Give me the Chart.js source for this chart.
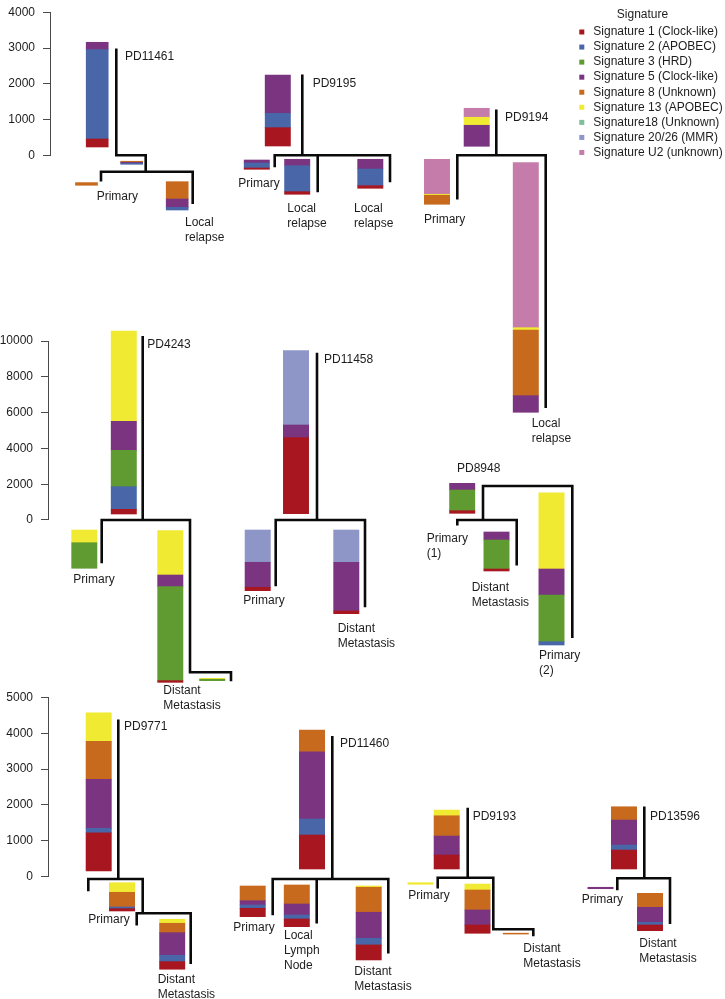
<!DOCTYPE html>
<html>
<head>
<meta charset="utf-8">
<script src="https://cdn.jsdelivr.net/npm/chart.js@4.4.1/dist/chart.umd.min.js"></script>
<style>
  body { margin: 0; background: #fff; width: 725px; height: 999px; position: relative; overflow: hidden; }
  canvas { position: absolute; left: 0; }
</style>
</head>
<body>
<canvas id="row1" width="725" height="450" style="top:0px"></canvas>
<canvas id="row2" width="725" height="460" style="top:255px"></canvas>
<canvas id="row3" width="725" height="319" style="top:680px"></canvas>
<script>
const signatureNames = [
  'Signature 1 (Clock-like)', 'Signature 2 (APOBEC)', 'Signature 3 (HRD)',
  'Signature 5 (Clock-like)', 'Signature 8 (Unknown)', 'Signature 13 (APOBEC)',
  'Signature18 (Unknown)', 'Signature 20/26 (MMR)', 'Signature U2 (unknown)',
];
const signatureColors = ['#A8171F', '#4866A8', '#609B32', '#7A3480', '#C86A1E', '#F0EA33', '#7DBE9B', '#8E96C8', '#C67CAA'];

const row1Ticks = [0, 1000, 2000, 3000, 4000];
const row2Ticks = [0, 2000, 4000, 6000, 8000, 10000];
const row3Ticks = [0, 1000, 2000, 3000, 4000, 5000];

// mutations per signature on each branch (same order as signatureNames)
// and the lower end of each bar, in mutations
const pd11461Counts = [
  [224, 2501, 0, 207, 0, 0, 0, 0, 0],
  [0, 30, 0, 25, 30, 0, 0, 0, 0],
  [0, 0, 0, 0, 75, 0, 0, 0, 0],
  [0, 76, 0, 232, 485, 0, 0, 0, 0],
];
const pd11461Base = [232, -252, -840, -1532];

const pd9195Counts = [
  [513, 403, 0, 1072, 0, 0, 0, 0, 0],
  [36, 140, 0, 84, 0, 0, 0, 0, 0],
  [73, 728, 0, 179, 0, 0, 0, 0, 0],
  [73, 467, 0, 272, 0, 0, 0, 0, 0],
];
const pd9195Base = [260, -392, -1092, -924];

const pd9194Counts = [
  [0, 0, 0, 588, 0, 224, 0, 0, 252],
  [0, 0, 0, 0, 252, 28, 0, 0, 980],
  [0, 0, 0, 465, 1839, 65, 0, 0, 4620],
];
const pd9194Base = [252, -1372, -7196];

const pd4243Counts = [
  [261, 1266, 2032, 1620, 0, 5045, 0, 0, 0],
  [0, 0, 1430, 0, 0, 709, 0, 0, 0],
  [94, 0, 5251, 652, 0, 2477, 0, 0, 0],
  [0, 0, 80, 0, 0, 50, 0, 0, 0],
];
const pd4243Base = [335, -2698, -9070, -8976];

const pd11458Counts = [
  [4248, 0, 0, 708, 0, 0, 0, 4151, 0],
  [190, 0, 0, 1397, 0, 0, 0, 1804, 0],
  [151, 0, 0, 2721, 0, 0, 0, 1804, 0],
];
const pd11458Base = [352, -3950, -5235];

const pd8948Counts = [
  [146, 0, 1156, 374, 0, 0, 0, 0, 0],
  [111, 0, 1621, 447, 0, 0, 0, 0, 0],
  [0, 185, 2609, 1452, 0, 4263, 0, 0, 0],
];
const pd8948Base = [374, -2849, -6984];

const pd9771Counts = [
  [1067, 123, 0, 1366, 1059, 797, 0, 0, 0],
  [64, 48, 0, 0, 409, 268, 0, 0, 0],
  [212, 178, 0, 630, 262, 112, 0, 0, 0],
];
const pd9771Base = [159, -956, -2581];

const pd11460Counts = [
  [947, 446, 0, 1876, 605, 0, 0, 0, 0],
  [234, 92, 0, 120, 410, 0, 0, 0, 0],
  [215, 112, 0, 306, 530, 0, 0, 0, 0],
  [419, 186, 0, 725, 697, 36, 0, 0, 0],
];
const pd11460Base = [215, -1115, -1394, -2322];

const pd9193Counts = [
  [390, 0, 0, 529, 566, 159, 0, 0, 0],
  [0, 0, 0, 0, 0, 45, 0, 0, 0],
  [232, 0, 0, 418, 557, 167, 0, 0, 0],
  [0, 0, 0, 0, 25, 0, 0, 0, 0],
];
const pd9193Base = [215, -212, -1578, -1600];

const pd13596Counts = [
  [529, 139, 0, 697, 371, 0, 0, 0, 0],
  [0, 0, 0, 40, 0, 0, 0, 0, 0],
  [159, 75, 0, 418, 390, 0, 0, 0, 0],
];
const pd13596Base = [215, -335, -1505];

// tree layout: bar columns, branch lines (x in page px, depth in mutations), labels
const row1Trees = [
  {
    counts: pd11461Counts, base: pd11461Base, barX: [97.2, 131.7, 86.5, 177.2], width: 22,
    nodes: [{ x: 116.3, top: 2957, end: 0 }, { x: 145.7, parent: 0, end: -459 },
      { x: 101, parent: 1, end: -700 }, { x: 192.7, parent: 1, end: -1327 }],
    labels: [[['PD11461'], 125, 2752], [['Primary'], 96.7, -1159], [['Local', 'relapse'], 185, -1896]],
  },
  {
    counts: pd9195Counts, base: pd9195Base, barX: [277.8, 256.8, 297.2, 370.3], width: 25.3,
    nodes: [{ x: 302.3, top: 2229, end: 0 }, { x: 274.7, parent: 0, end: -300 },
      { x: 317.7, parent: 0, end: -1000 }, { x: 390, parent: 0, end: -720 }],
    labels: [[['PD9195'], 312.7, 1996], [['Primary'], 238.3, -784],
      [['Local', 'relapse'], 287.3, -1504], [['Local', 'relapse'], 354, -1504]],
  },
  {
    counts: pd9194Counts, base: pd9194Base, barX: [476.7, 437, 525.8], width: 25.3,
    nodes: [{ x: 496.3, top: 1249, end: 0 }, { x: 457.3, parent: 0, end: -1204 },
      { x: 545.7, parent: 0, end: -7039 }],
    labels: [[['PD9194'], 505, 1064], [['Primary'], 424, -1812], [['Local', 'relapse'], 531.7, -7524]],
  },
];

const row2Trees = [
  {
    counts: pd4243Counts, base: pd4243Base, barX: [123.8, 84.3, 170.3, 212.2], width: 25.3,
    nodes: [{ x: 142.7, top: 10207, end: 0 }, { x: 101.7, parent: 0, end: -2347 },
      { x: 190, parent: 0, end: -8509 }, { x: 231, parent: 2, end: -8939 }],
    labels: [[['PD4243'], 147.3, 9816], [['Primary'], 73.3, -3313], [['Distant', 'Metastasis'], 163.3, -9554]],
  },
  {
    counts: pd11458Counts, base: pd11458Base, barX: [296, 257.7, 346.3], width: 25.3,
    nodes: [{ x: 317, top: 9274, end: 0 }, { x: 275.7, parent: 0, end: -3632 },
      { x: 365, parent: 0, end: -4805 }],
    labels: [[['PD11458'], 324, 8939], [['Primary'], 243.3, -4509], [['Distant', 'Metastasis'], 337.7, -6090]],
  },
  {
    counts: pd8948Counts, base: pd8948Base, barX: [462.2, 496.5, 551.5], width: 25.3,
    nodes: [{ x: 527, top: 1900, end: 1900 }, { x: 483, parent: 0, end: 0 },
      { x: 572.3, parent: 0, end: -6520 }, { x: 457.3, parent: 1, end: -240 },
      { x: 516.7, parent: 1, end: -2475 }],
    labels: [[['PD8948'], 457, 2849], [['Primary', '(1)'], 426.7, -1022],
      [['Distant', 'Metastasis'], 471.7, -3760], [['Primary', '(2)'], 539, -7582]],
  },
];

const row3Trees = [
  {
    counts: pd9771Counts, base: pd9771Base, barX: [98.7, 122, 172.2], width: 25.3,
    nodes: [{ x: 118.3, top: 4348, end: -64 }, { x: 88.3, parent: 0, end: -371 },
      { x: 142.7, parent: 0, end: -1020 }, { x: 136.7, parent: 2, end: -1327 },
      { x: 190.7, parent: 2, end: -2397 }],
    labels: [[['PD9771'], 124, 4184], [['Primary'], 88.3, -1188], [['Distant', 'Metastasis'], 157.7, -2861]],
  },
  {
    counts: pd11460Counts, base: pd11460Base, barX: [312, 252.7, 296.8, 368.7], width: 25.3,
    nodes: [{ x: 332.3, top: 3885, end: -64 }, { x: 272.7, parent: 0, end: -1040 },
      { x: 316.7, parent: 0, end: -1271 }, { x: 388.3, parent: 0, end: -2107 }],
    labels: [[['PD11460'], 340, 3720], [['Primary'], 233.3, -1422],
      [['Local', 'Lymph', 'Node'], 284, -1654], [['Distant', 'Metastasis'], 354.3, -2650]],
  },
  {
    counts: pd9193Counts, base: pd9193Base, barX: [446.7, 420.5, 477.5, 515.8], width: 25.3,
    nodes: [{ x: 467.7, top: 1887, end: -28 }, { x: 437.7, parent: 0, end: -295 },
      { x: 493.3, parent: 0, end: -1466 }, { x: 533.3, parent: 2, end: -1625 }],
    labels: [[['PD9193'], 472.7, 1673], [['Primary'], 408.3, -538], [['Distant', 'Metastasis'], 523.3, -2016]],
  },
  {
    counts: pd13596Counts, base: pd13596Base, barX: [624, 600.5, 650], width: 25.3,
    nodes: [{ x: 644.3, top: 1920, end: -45 }, { x: 617.3, parent: 0, end: -343 },
      { x: 670, parent: 0, end: -1282 }],
    labels: [[['PD13596'], 650, 1673], [['Primary'], 581.7, -630], [['Distant', 'Metastasis'], 639.3, -1877]],
  },
];

const fontFamily = '"Liberation Sans", Arial, Helvetica, sans-serif';
const textColor = '#1d1d1d';

function barDatasets(tree) {
  const out = [];
  signatureNames.forEach((name, s) => {
    const data = [];
    tree.counts.forEach((c, b) => {
      if (!c[s]) return;
      const lo = tree.base[b] + c.slice(0, s).reduce((a, v) => a + v, 0);
      data.push({ x: tree.barX[b], y: [lo, lo + c[s]] });
    });
    if (data.length) {
      out.push({
        type: 'bar', label: name, data,
        backgroundColor: signatureColors[s],
        barThickness: tree.width, grouped: false, borderWidth: 0,
      });
    }
  });
  return out;
}

function treeDataset(tree) {
  const pts = [];
  const gap = () => ({ x: NaN, y: NaN });
  tree.nodes.forEach((n, i) => {
    const top = n.parent === undefined ? n.top : tree.nodes[n.parent].end;
    if (top !== n.end) pts.push({ x: n.x, y: top }, { x: n.x, y: n.end }, gap());
    const kids = tree.nodes.filter(k => k.parent === i);
    if (kids.length) {
      const xs = [n.x, ...kids.map(k => k.x)];
      pts.push({ x: Math.min(...xs), y: n.end }, { x: Math.max(...xs), y: n.end }, gap());
    }
  });
  return {
    type: 'line', data: pts, borderColor: '#0a0a0a', borderWidth: 2.6,
    pointRadius: 0, borderCapStyle: 'square', borderJoinStyle: 'miter',
    spanGaps: false, tension: 0,
  };
}

const axisLine = {
  id: 'axisLine',
  afterDraw(chart) {
    const y = chart.scales.y;
    const t = y.ticks;
    const ctx = chart.ctx;
    ctx.save();
    ctx.strokeStyle = '#4a4a4a';
    ctx.lineWidth = 1;
    ctx.beginPath();
    ctx.moveTo(y.right - 0.5, y.getPixelForValue(t[0].value));
    ctx.lineTo(y.right - 0.5, y.getPixelForValue(t[t.length - 1].value));
    ctx.stroke();
    ctx.restore();
  },
};

const signatureLegend = {
  id: 'signatureLegend',
  afterDraw(chart) {
    const ctx = chart.ctx;
    ctx.save();
    ctx.font = '12px ' + fontFamily;
    ctx.textBaseline = 'middle';
    ctx.fillStyle = textColor;
    ctx.textAlign = 'center';
    ctx.fillText('Signature', 642.5, 15);
    ctx.textAlign = 'left';
    signatureNames.forEach((name, i) => {
      const cy = 32 + i * 15.06;
      ctx.fillStyle = signatureColors[i];
      ctx.fillRect(579.3, cy - 2.5, 5, 5);
      ctx.fillStyle = textColor;
      ctx.fillText(name, 593.3, cy);
    });
    ctx.restore();
  },
};

function buildRow(canvasId, trees, yMin, yMax, tickValues, axisWidth, extra) {
  const datasets = [];
  trees.forEach(t => {
    datasets.push(treeDataset(t));
    datasets.push(...barDatasets(t));
  });
  const treeLabels = {
    id: 'treeLabels',
    afterDatasetsDraw(chart) {
      const { ctx, scales: { x, y } } = chart;
      ctx.save();
      ctx.font = '12px ' + fontFamily;
      ctx.fillStyle = textColor;
      ctx.textAlign = 'left';
      ctx.textBaseline = 'middle';
      trees.forEach(t => t.labels.forEach(([lines, lx, ly]) => {
        lines.forEach((s, i) => ctx.fillText(s, x.getPixelForValue(lx), y.getPixelForValue(ly) + i * 15));
      }));
      ctx.restore();
    },
  };
  new Chart(document.getElementById(canvasId).getContext('2d'), {
    type: 'bar',
    data: { datasets },
    options: {
      responsive: false,
      animation: false,
      devicePixelRatio: 1,
      layout: { padding: 0, autoPadding: false },
      plugins: { legend: { display: false }, tooltip: { enabled: false } },
      events: [],
      scales: {
        x: { type: 'linear', min: axisWidth, max: 725, display: false, offset: false },
        y: {
          type: 'linear', min: yMin, max: yMax,
          afterBuildTicks(scale) { scale.ticks = tickValues.map(v => ({ value: v })); },
          afterFit(scale) { scale.width = axisWidth; scale.paddingTop = 0; scale.paddingBottom = 0; },
          border: { display: false },
          grid: { display: true, drawOnChartArea: false, drawTicks: true, tickLength: 8, color: '#4a4a4a', lineWidth: 1 },
          ticks: {
            autoSkip: false, padding: 8, color: textColor,
            font: { family: fontFamily, size: 12 },
            callback: v => String(v),
          },
        },
      },
    },
    plugins: [axisLine, treeLabels, ...extra],
  });
}

buildRow('row1', row1Trees, -8252, 4348, row1Ticks, 51, [signatureLegend]);
buildRow('row2', row2Trees, -10895, 14806, row2Ticks, 49, []);
buildRow('row3', row3Trees, -3411, 5486, row3Ticks, 49, []);
</script>
</body>
</html>
